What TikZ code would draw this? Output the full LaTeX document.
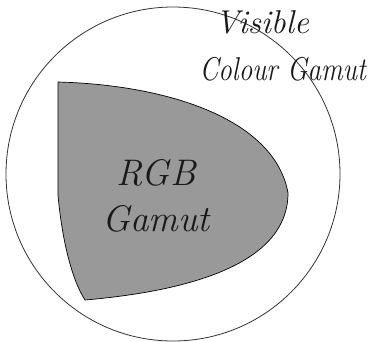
\documentclass[tikz,border=0pt]{standalone}
\usepackage{graphicx}
\begin{document}
\begin{tikzpicture}[x=1pt,y=-1pt,
  lbl/.style={font=\itshape\fontsize{33}{36}\selectfont, align=center, inner sep=0pt, text=black!90},
  biglbl/.style={lbl, font=\itshape\fontsize{37}{40}\selectfont}]
\useasboundingbox (0,0) rectangle (369,341);
\fill[white] (0,0) rectangle (369,341);
\draw[line width=0.8pt, black!80] (173,174) circle[radius=167];
\draw[line width=0.7pt, fill=black!40] (58,82) -- (58,195)
  .. controls (62,240) and (72,280) .. (85,300)
  .. controls (200,290) and (288,260) .. (288,193)
  .. controls (275,120) and (170,85) .. (58,82) -- cycle;
\node[biglbl] (rgb) at (156,173) {RGB};
\node[biglbl] (gam) at (156,219) {Gamut};
\node[lbl] (vis) at (262,22) {Visible};
\node[lbl, anchor=east] (col) at (366,69) {\scalebox{0.82}[1]{Colour Gamut}};
\end{tikzpicture}
\end{document}
